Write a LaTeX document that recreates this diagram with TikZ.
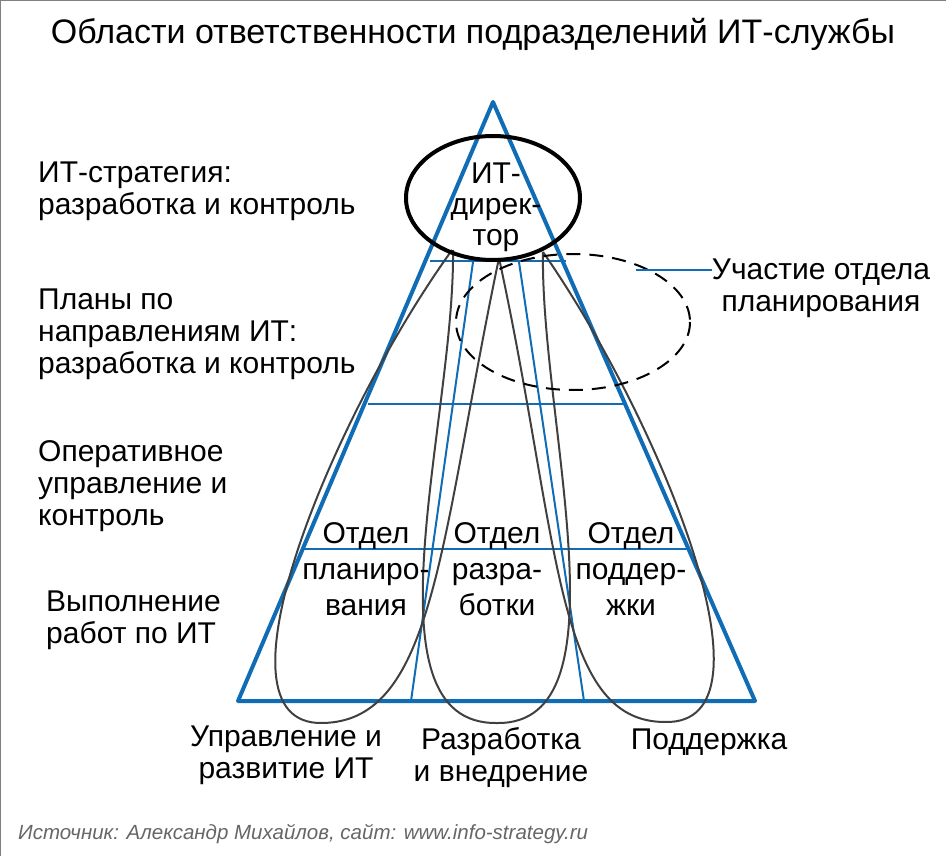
\documentclass[tikz,border=0pt]{standalone}
\usepackage{fontspec}
\setmainfont{Liberation Sans}
\definecolor{tblue}{RGB}{16,108,180}
\begin{document}
\begin{tikzpicture}[x=1pt,y=-1pt,
	txt/.style={font=\fontsize{30}{32}\selectfont,align=left,anchor=west,inner sep=0pt},
	mid/.style={font=\fontsize{30}{32}\selectfont,align=center,inner sep=0pt},
	dept/.style={font=\fontsize{30}{36}\selectfont,align=center,inner sep=0pt},
	loop/.style={draw=black!75,line width=2pt},
	level/.style={draw=tblue,line width=2pt}]
	\useasboundingbox (0,0) rectangle (946,856);
	\draw[gray] (0,0) rectangle (946,856);
	\node[mid,font=\fontsize{34}{38}\selectfont] (title) at (473,34) {Области ответственности подразделений ИТ-службы};
	% triangle and levels
	\coordinate (top) at (493,102);
	\coordinate (bl) at (238,701);
	\coordinate (br) at (755,701);
	\draw[tblue,line width=4pt,line join=round] (top) -- (bl) -- (br) -- cycle;
	\draw[level] (430,261) -- (566,261);
	\draw[level] (368,404) -- (626,404);
	\draw[level] (303,549) -- (690,549);
	\draw[level] (473,262) -- (411,701);
	\draw[level] (519,262) -- (584,701);
	% loops
	\draw[loop] (452,250) .. controls (330,420) and (205,725) .. (322,723) .. controls (435,722) and (440,540) .. (499,258);
	\draw[loop] (453,250) .. controls (455,420) and (360,725) .. (497,723) .. controls (630,725) and (540,420) .. (543,252);
	\draw[loop] (499,258) .. controls (560,540) and (555,722) .. (665,722) .. controls (785,725) and (660,420) .. (543,252);
	% ovals
	\draw[line width=4pt] (493,198) ellipse (87 and 62);
	\draw[line width=2pt,dash pattern=on 14pt off 9pt] (573,322) ellipse (117 and 68);
	\node[mid,font=\fontsize{30}{31}\selectfont] (dir) at (496,207) {ИТ-\\дирек-\\тор};
	\node[mid] (plan) at (821,288) {Участие отдела\\планирования};
	\draw[tblue,line width=1.2pt] (636,270) -- (plan.west|-636,270);
	% left labels
	\node[txt] (l1) at (38,191) {ИТ-стратегия:\\разработка и контроль};
	\node[txt] (l2) at (38,334) {Планы по\\направлениям ИТ:\\разработка и контроль};
	\node[txt] (l3) at (38,486) {Оперативное\\управление и\\контроль};
	\node[txt] (l4) at (46,620) {Выполнение\\работ по ИТ};
	% departments
	\node[dept] (d1) at (366,569) {Отдел\\планиро-\\вания};
	\node[dept] (d2) at (497,569) {Отдел\\разра-\\ботки};
	\node[dept] (d3) at (631,569) {Отдел\\поддер-\\жки};
	% bottom labels
	\node[mid] (b1) at (286,755) {Управление и\\развитие ИТ};
	\node[mid] (b2) at (501,758) {Разработка\\и внедрение};
	\node[mid] (b3) at (709,742) {Поддержка};
	\node[txt,font=\fontsize{20.5}{23}\selectfont\itshape,text=black!60] (src) at (18,834) {Источник: Александр Михайлов, сайт: www.info-strategy.ru};
\end{tikzpicture}
\end{document}
